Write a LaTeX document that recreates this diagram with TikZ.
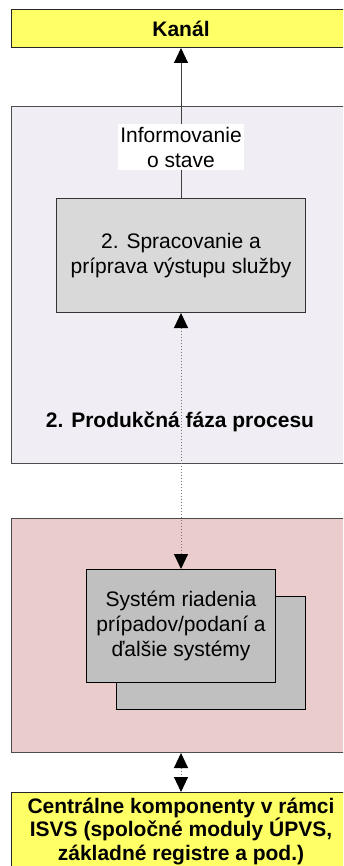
\documentclass[tikz,border=0pt]{standalone}
\usepackage{fontspec}
\setmainfont{Liberation Sans}
\usetikzlibrary{arrows.meta}
\definecolor{kanalyellow}{RGB}{255,255,102}
\definecolor{phaselilac}{RGB}{240,238,244}
\definecolor{phasepink}{RGB}{235,204,204}
\definecolor{boxgray}{RGB}{217,217,217}
\definecolor{sysgray}{RGB}{192,192,192}
\tikzset{
  textfont/.style={font=\fontsize{21}{25}\selectfont},
  boldfont/.style={font=\fontsize{21}{23.5}\selectfont\bfseries},
  yellowbox/.style={draw=black!85, fill=kanalyellow, anchor=north west, boldfont},
  phasebox/.style={draw=black!70, anchor=north west},
  stepbox/.style={draw=black!80, fill=boxgray, anchor=north west},
  sysbox/.style={draw=black, fill=sysgray, anchor=north west},
  headtip/.tip={Triangle[width=14pt,length=15pt,color=black]}
}
\begin{document}
\begin{tikzpicture}[x=1pt, y=-1pt, line width=1pt, every node/.style={textfont, align=center, inner sep=0pt}]
        \useasboundingbox (0,0) rectangle (343,866);
        \clip (0,0) rectangle (343,866);
        \node [yellowbox, minimum width=339, minimum height=38] (kanal) at (11,9) {Kanál};
        \node [phasebox, fill=phaselilac, minimum width=339, minimum height=357] (produkcia) at (11,106) {};
        \node [phasebox, fill=phasepink, minimum width=339, minimum height=234] (systemy) at (11,518) {};
        \node [yellowbox, minimum width=339, minimum height=78] (centralne) at (11,792) {Centrálne komponenty v rámci\\ISVS (spoločné moduly ÚPVS,\\základné registre a pod.)};
        \node [stepbox, minimum width=249, minimum height=114] (spracovanie) at (56,198) {2. Spracovanie a\\príprava výstupu služby};
        \node [sysbox, minimum width=189, minimum height=113] (systemzadny) at (116,596) {};
        \node [sysbox, minimum width=189, minimum height=113] (system) at (86,569) {Systém riadenia\\prípadov/podaní a\\ďalšie systémy};
        \node [boldfont] (fazanazov) at (180,422) {2. Produkčná fáza procesu};
        \draw [-headtip, draw=black!75] (spracovanie.north) -- (kanal.south)
          node [pos=0.34, fill=white, inner xsep=2pt, inner ysep=3pt] (info) {Informovanie\\o stave};
        \draw [headtip-headtip, draw=black!55, dotted] (spracovanie.south) -- (system.north);
        \draw [headtip-headtip, draw=black!55, dotted] (systemy.south) -- (centralne.north);
      \end{tikzpicture}
\end{document}
